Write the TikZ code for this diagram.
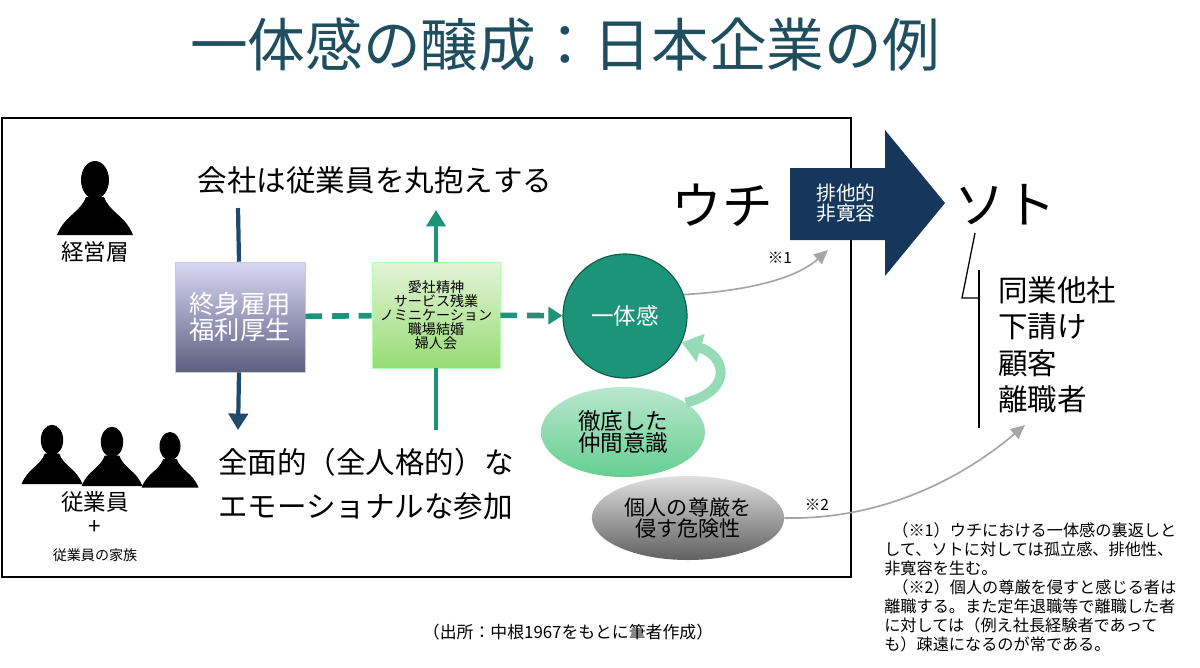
\documentclass[tikz,border=0pt]{standalone}
\usepackage{fontspec}
\setmainfont{Noto Sans CJK JP}
\usetikzlibrary{arrows.meta,shapes.geometric,positioning}
\definecolor{titleblue}{HTML}{1F4E5F}
\definecolor{navy}{HTML}{1F4A6E}
\definecolor{teal}{HTML}{1B9479}
\definecolor{arrownavy}{HTML}{15375C}
\tikzset{x=0.025cm, y=-0.025cm, >=Triangle,
  fs/.style={font=\fontsize{#1}{#1}\selectfont},
  label/.style={fs=21, inner sep=0pt},
  person/.pic={\fill[black] (0,-25) ellipse (14 and 19);
    \fill[black] (-38,30) .. controls (-30,10) and (-15,8) .. (-9,-8) -- (9,-8) .. controls (15,8) and (30,10) .. (38,30) -- cycle;},
  vline/.style={line width=3pt, ->},
  grayarrow/.style={line width=1.2pt, gray!70, -{Triangle[length=10pt,width=9pt]}},
}
\begin{document}
\begin{tikzpicture}
\useasboundingbox (0,0) rectangle (1200,667);
% title and frame
\node[fs=41, text=titleblue] (title) at (565,45) {一体感の醸成：日本企業の例};
\draw[line width=0.8pt] (2,118) rectangle (851,577);
% people
\pic at (95,205) {person};
\node[fs=16] (mgmt) at (95,252) {経営層};
\pic[scale=0.8] at (52,460) {person};
\pic[scale=0.8] at (112,462) {person};
\pic[scale=0.75] at (170,465) {person};
\node[fs=16] (staff) at (95,502) {従業員};
\node[fs=16] (plus) at (95,527) {+};
\node[fs=10] (family) at (95,555) {従業員の家族};
% labels
\node[label] (embrace) at (375,180) {会社は従業員を丸抱えする};
\node[label, align=left, anchor=west] (emotion) at (218,484) {全面的（全人格的）な\\[10pt]エモーショナルな参加};
% boxes
\node[draw=gray!40, minimum width=130*0.025cm, minimum height=110*0.025cm, top color=gray!45!blue!20, bottom color=gray!70!blue!60!black!80, text=white, fs=18, align=center] (welfare) at (240,317) {終身雇用\\福利厚生};
\node[draw=green!30, minimum width=128*0.025cm, minimum height=106*0.025cm, top color=green!40!olive!15, bottom color=green!50!olive!55, fs=10, align=center, inner sep=1pt] (spirit) at (436,315) {愛社精神\\サービス残業\\ノミニケーション\\職場結婚\\婦人会};
\node[circle, fill=teal, draw=teal!60!black, line width=0.8pt, minimum size=124*0.025cm, text=white, fs=16] (unity) at (625,316) {一体感};
\node[ellipse, minimum width=164*0.025cm, minimum height=90*0.025cm, top color=green!25!teal!30, bottom color=green!30!teal!65, fs=16, align=center] (comrade) at (623,432) {徹底した\\仲間意識};
\node[ellipse, minimum width=136*0.025cm, minimum height=84*0.025cm, top color=gray!25, bottom color=gray!75!black, fs=15, align=center] (dignity) at (688,518) {個人の尊厳を\\侵す危険性};
% vertical arrows
\coordinate (navytop) at (238,208);
\coordinate (navybot) at (238,430);
\coordinate (tealtop) at (436,210);
\coordinate (tealbot) at (436,430);
\draw[navy, line width=3pt] (navytop) -- (welfare);
\draw[navy, vline] (welfare) -- (navybot);
\draw[teal, line width=3pt] (tealbot) -- (spirit);
\draw[teal, vline] (spirit) -- (tealtop);
\draw[teal, line width=4pt, dash pattern=on 12pt off 7pt] (welfare) -- (spirit);
\draw[teal, line width=4pt, dash pattern=on 12pt off 7pt, -{Triangle[length=10pt,width=12pt]}] (spirit) -- (unity);
% uchi / soto
\node[fs=36] (uchi) at (722,205) {ウチ};
\node[fs=36] (soto) at (1005,205) {ソト};
\fill[arrownavy] (790,168) -- (885,168) -- (885,130) -- (945,203) -- (885,276) -- (885,240) -- (790,240) -- cycle;
\node[text=white, fs=14, align=center] (excl) at (846,203) {排他的\\非寛容};
\draw[grayarrow] (unity.20) .. controls (760,290) and (800,275) .. (828,250);
\node[fs=11] (note1) at (780,258) {※1};
\draw[green!25!teal!45, line width=7pt, -{Triangle[length=14pt,width=20pt]}] (comrade.25) .. controls (735,390) and (725,355) .. (unity.-25);
\draw[grayarrow] (dignity.east) .. controls (880,520) and (960,480) .. (1025,425);
\node[fs=11] (note2) at (817,505) {※2};
% bracket and list
\coordinate (b1) at (975,233);
\coordinate (b2) at (962,298);
\coordinate (b3) at (979,298);
\coordinate (b4) at (979,270);
\coordinate (b5) at (979,428);
\draw[line width=0.9pt] (b1) -- (b2) -- (b3);
\draw[line width=0.9pt] (b4) -- (b5);
\node[fs=21, align=left, anchor=north west, inner sep=0pt] (others) at (998,276) {同業他社\\[5pt]下請け\\[5pt]顧客\\[5pt]離職者};
% notes
\node[font=\fontsize{11.5}{13.6}\selectfont, align=left, anchor=north west, inner sep=0pt] (notes) at (884,522) {\hspace{0.5em}（※1）ウチにおける一体感の裏返しと\\して、ソトに対しては孤立感、排他性、\\非寛容を生む。\\\hspace{0.5em}（※2）個人の尊厳を侵すと感じる者は\\離職する。また定年退職等で離職した者\\に対しては（例え社長経験者であって\\も）疎遠になるのが常である。};
\node[fs=12] (source) at (568,632) {（出所：中根1967をもとに筆者作成）};
\end{tikzpicture}
\end{document}
